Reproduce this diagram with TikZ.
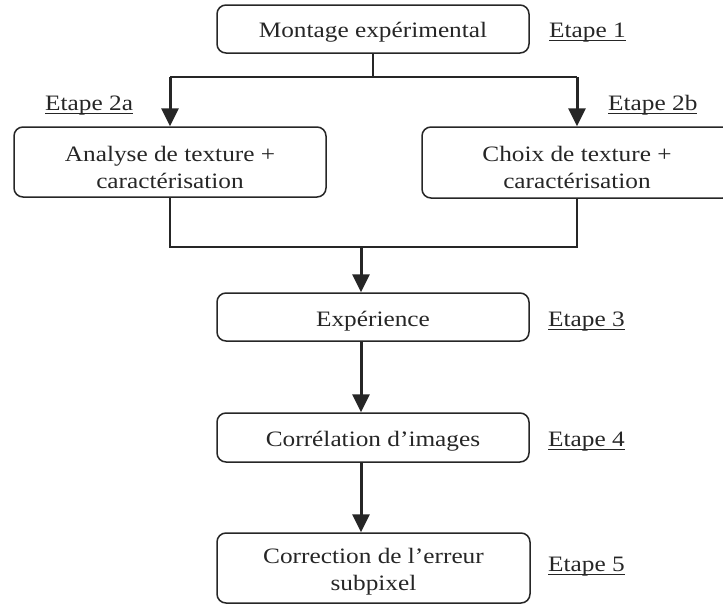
\documentclass[tikz,border=0pt]{standalone}
\usepackage{fontspec}
\setmainfont[FakeStretch=1.15]{Liberation Serif}
\usetikzlibrary{arrows.meta}
\newcommand\ulab[1]{\setbox0\hbox{#1}\rlap{\rule[-3.8pt]{\wd0}{1.1pt}}\box0}
\newcommand\twol[2]{\begin{tabular}[t]{@{}c@{}}#1\\#2\end{tabular}}
\definecolor{ink}{HTML}{262626}
\tikzset{
  box/.style={draw=ink, line width=1.5pt, rounded corners=9pt, align=center,
    inner xsep=0pt, inner ysep=0pt, text=ink, font=\fontsize{22pt}{27pt}\selectfont},
  lab/.style={anchor=base west, inner sep=0pt, text=ink, font=\fontsize{22pt}{27pt}\selectfont},
  thin/.style={draw=ink, line width=1.5pt},
  arr/.style={draw=ink, line width=3pt, -{Triangle[length=18pt,width=17pt]}},
}
\begin{document}
\begin{tikzpicture}[x=1pt,y=-1pt]
\useasboundingbox (0,0) rectangle (723,605);
\clip (0,0) rectangle (723,605);
\node[box, minimum width=312pt, text height=32pt, text depth=16pt] (b1) at (373,29) {Montage expérimental};
\node[box, minimum width=312pt, text height=34.5pt, text depth=35.5pt] (b2a) at (170,162) {\twol{Analyse de texture +}{caractérisation}};
\node[box, minimum width=310pt, text height=34pt, text depth=37pt] (b2b) at (577,162.5) {\twol{Choix de texture +}{caractérisation}};
\node[box, minimum width=312pt, text height=33.5pt, text depth=14.5pt] (b3) at (373,317) {Expérience};
\node[box, minimum width=312pt, text height=33.5pt, text depth=15.5pt] (b4) at (373,437.5) {Corrélation d’images};
\node[box, minimum width=313pt, text height=30.5pt, text depth=39.5pt] (b5) at (373.5,568) {\twol{Correction de l’erreur}{subpixel}};

\node[lab] (e1) at (549,37) {\ulab{Etape 1}};
\node[lab] (e2a) at (45,110.5) {\ulab{Etape 2a}};
\node[lab] (e2b) at (608,110.5) {\ulab{Etape 2b}};
\node[lab] (e3) at (548,326.5) {\ulab{Etape 3}};
\node[lab] (e4) at (548,446) {\ulab{Etape 4}};
\node[lab] (e5) at (548,571.5) {\ulab{Etape 5}};

\coordinate (split) at (373,77);
\coordinate (merge) at (361,247);

\draw[thin] (b1.south) -- (split);
\draw[thin] (b2a.north |- split) -- (b2b.north |- split);
\draw[arr] (b2a.north |- split) -- (b2a.north);
\draw[arr] (b2b.north |- split) -- (b2b.north);
\draw[thin] (b2a.south) -- (b2a.south |- merge) -- (b2b.south |- merge) -- (b2b.south);
\draw[arr] (merge) -- (merge |- b3.north);
\draw[arr] (merge |- b3.south) -- (merge |- b4.north);
\draw[arr] (merge |- b4.south) -- (merge |- b5.north);
\end{tikzpicture}
\end{document}
